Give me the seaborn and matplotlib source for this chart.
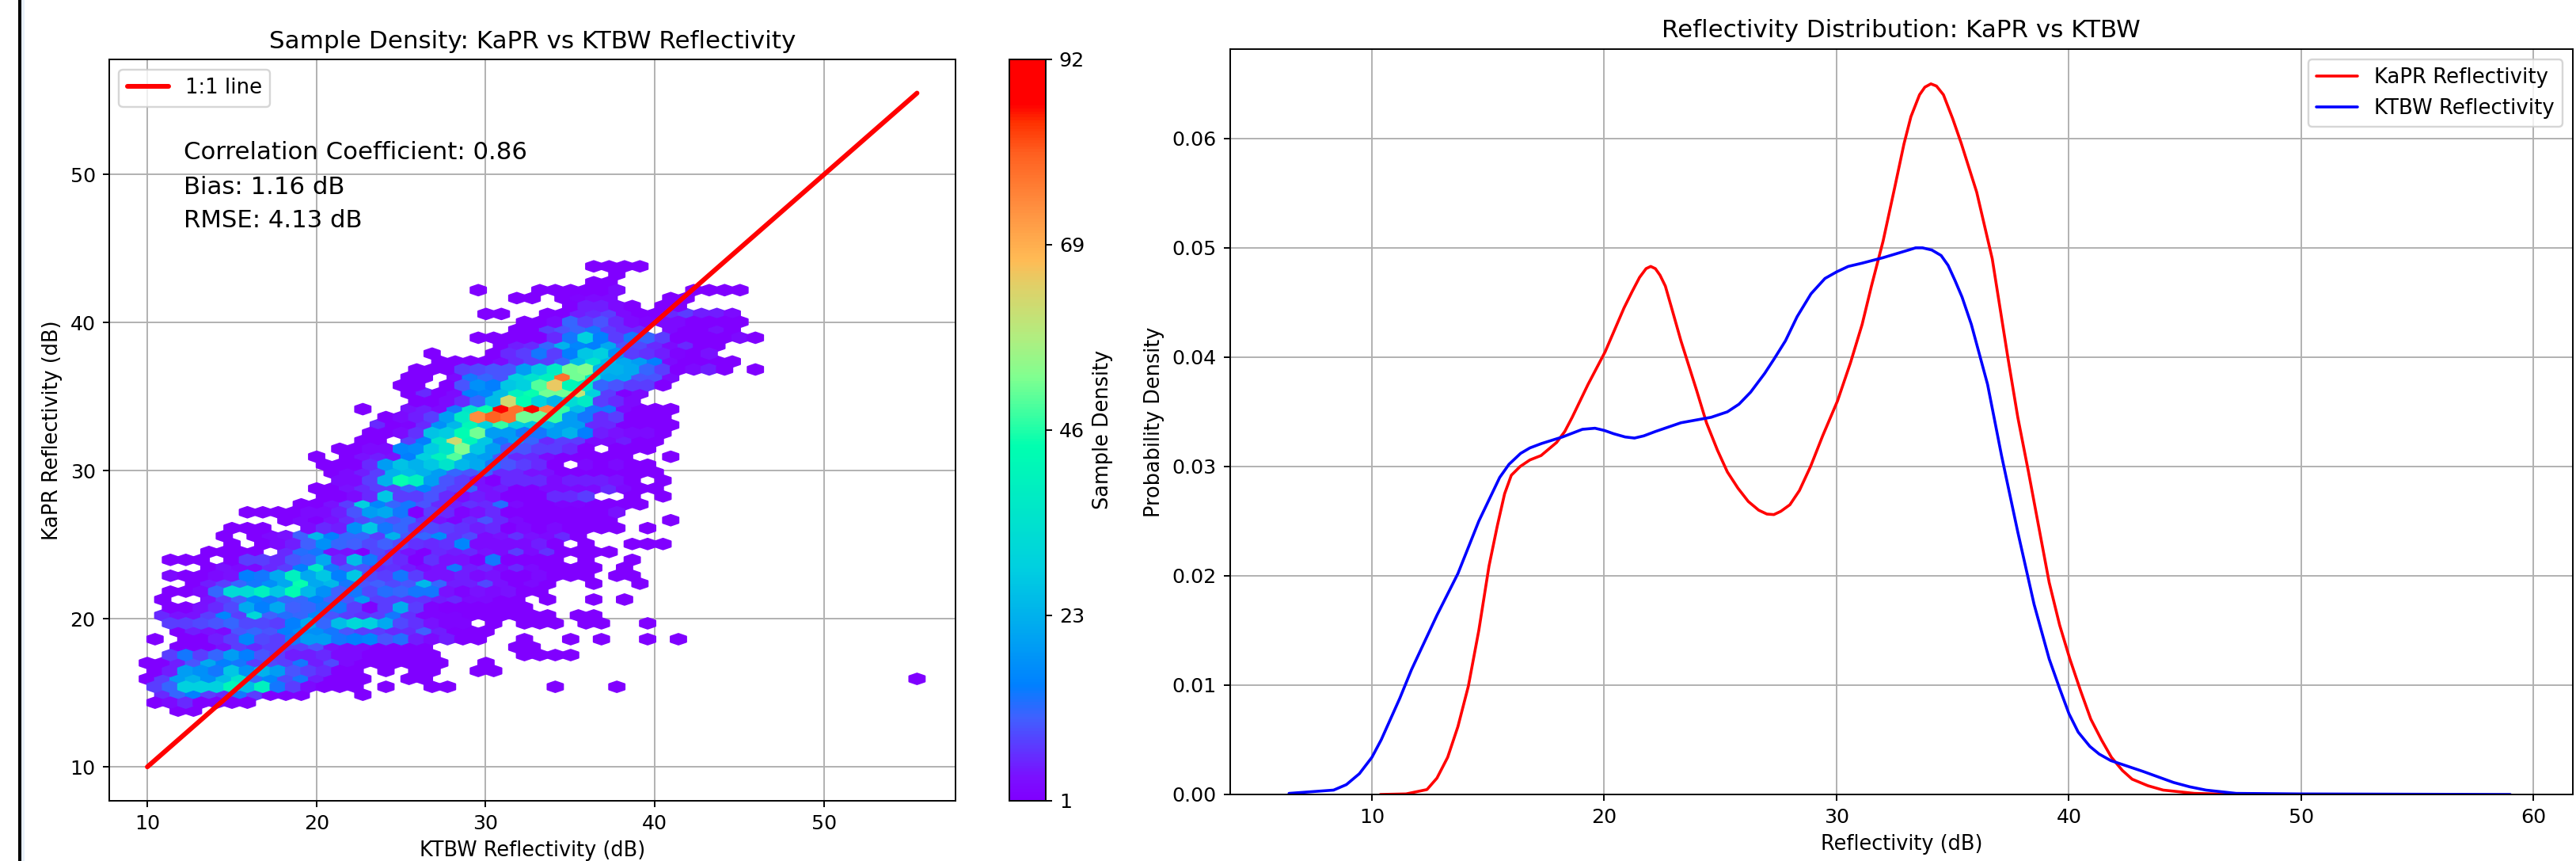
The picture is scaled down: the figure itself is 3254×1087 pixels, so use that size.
import numpy as np
import pandas as pd
import matplotlib
matplotlib.use("Agg")
import matplotlib.pyplot as plt
from matplotlib.colors import LinearSegmentedColormap
from matplotlib.patches import Rectangle
import seaborn as sns

W, H, DPI = 3254, 1087, 173

# Hex cells: half-row number from the top, first column, counts (0 = empty)
row_k = list(range(57)) + [52]
row_start = [29, 30, 29, 21, 24, 27, 22, 24, 24, 21, 23, 18, 19, 17, 17, 16, 17, 17, 14, 15, 15, 14, 14, 12, 11, 11, 12, 12, 11, 11,
             10, 6, 9, 5, 5, 5, 4, 1, 4, 1, 3, 1, 1, 1, 1, 1, 2, 0, 2, 1, 0, 0, 0, 0, 1, 0, 2, 50]
row_counts = [
 [1,1,1,1],
 [1],
 [1,1],
 [1,0,0,0,1,1,1,1,1,3,0,0,0,0,1,1,1,1],
 [1,1,0,1,2,3,3,0,0,0,1,1],
 [1,5,5,3,1,0,1,1],
 [1,1,0,0,1,1,5,6,8,3,1,1,6,8,5,5,3],
 [1,1,3,12,8,10,6,3,2,3,3,1,1,1,1],
 [1,1,8,10,12,14,8,6,6,0,3,1,1,4,1],
 [1,1,1,1,1,6,14,30,15,8,14,12,8,1,1,1,1,3,1],
 [1,5,6,12,24,16,15,22,10,9,6,3,6,1,1],
 [1,0,0,0,1,6,8,14,8,15,28,30,18,8,7,5,2,1,4],
 [1,1,1,1,3,6,8,8,12,26,36,25,22,20,15,3,1,1,1,1],
 [1,1,1,8,9,10,10,20,28,38,52,53,24,24,22,12,8,1,3,5,1,0,1],
 [1,1,0,3,14,12,10,30,35,40,78,52,38,22,22,10,10,3],
 [1,1,0,1,10,18,15,28,30,50,65,42,38,12,10,8,8,1],
 [1,6,1,3,15,16,26,40,45,52,52,60,30,8,1,3],
 [1,1,3,6,12,26,62,44,30,24,33,38,8,6,3],
 [1,0,0,4,5,3,14,36,45,92,78,92,75,48,26,14,14,3,1,1,1],
 [1,3,5,8,20,38,74,80,78,52,52,48,20,14,6,8,1,1,1],
 [6,1,2,6,18,25,42,30,48,30,28,24,20,20,6,6,1,1,1,1],
 [1,1,3,7,27,29,44,52,20,20,14,14,20,24,15,5,4,3,3,1],
 [1,1,0,8,15,36,62,42,28,14,20,12,6,8,8,3,3,5,1,1],
 [1,1,3,3,16,17,29,36,53,28,20,10,10,8,8,6,1,0,1,1,1],
 [1,0,1,4,5,4,15,30,40,50,22,20,10,6,6,3,1,1,1,1,1,0,0,1],
 [1,1,1,6,20,27,24,28,36,25,22,14,10,8,6,1,0,3,1,3,1,1],
 [1,3,5,8,24,26,24,20,12,10,12,6,6,4,4,1,1,1,1,1,1,1],
 [3,3,8,24,45,40,20,10,8,4,1,6,6,6,3,5,5,5,4,1,0,1],
 [1,1,4,6,8,8,12,16,10,8,12,4,5,1,1,3,3,3,3,6,3,1,1],
 [1,1,3,6,28,8,8,10,6,3,5,4,1,1,1,6,6,8,0,0,1,0,1],
 [1,1,4,8,30,16,12,14,10,6,5,7,6,13,3,1,1,2,2,1,1,1,1],
 [1,1,1,1,3,3,5,10,20,22,14,1,8,6,2,4,6,1,1,1,1,1,1,1,4],
 [1,3,1,4,6,9,12,10,12,7,4,2,6,10,6,3,1,1,1,1,1,1,0,0,0,1],
 [1,1,1,0,0,3,6,5,18,28,14,12,8,9,8,7,5,6,1,3,1,3,1,1,1,1,0,1],
 [1,0,1,3,4,11,25,15,12,12,8,24,10,12,17,7,9,3,4,7,4,3,6,1],
 [1,0,1,3,5,11,18,12,11,9,11,9,7,6,7,16,3,3,3,3,5,1,0,1,0,0,1,1,1],
 [1,1,1,1,0,6,13,14,4,4,1,9,6,4,1,6,5,6,4,3,8,3,7,1,1,1,1],
 [1,1,1,0,1,8,8,6,10,12,22,6,26,14,8,6,1,7,4,4,1,14,1,1,1,1,0,1,0,0,1],
 [1,4,3,3,6,8,15,38,14,10,10,6,7,5,3,4,14,5,6,3,6,3,1,1,1,1,0,1],
 [3,1,1,3,4,15,14,22,40,22,28,15,28,9,8,14,8,4,4,5,3,4,1,1,3,1,1,1,0,1,1],
 [1,5,8,12,14,18,22,45,22,25,14,10,11,9,10,25,12,5,5,9,4,1,3,1,0,0,1,0,0,1],
 [1,1,3,12,33,33,40,28,44,25,18,11,14,9,13,12,14,14,4,2,4,3,4,1,1],
 [1,0,0,4,8,11,16,14,12,12,15,11,10,20,8,8,7,7,5,6,3,3,1,1,0,1,0,0,1,0,1],
 [1,1,4,6,9,22,15,22,11,12,14,14,8,2,8,23,8,2,1,1,1,1,1,1],
 [6,4,4,8,16,8,32,11,13,12,16,10,8,7,8,14,7,2,2,2,1,1,1,1,1,1,0,1,1],
 [8,8,9,10,12,9,9,8,15,22,12,26,32,30,22,9,7,4,2,2,0,1,0,1,1,1,0,1,1,0,0,1],
 [1,5,4,3,10,12,10,15,18,18,14,10,8,8,6,6,11,5,1,1,1],
 [1,0,1,1,5,8,16,9,8,14,20,20,14,15,16,10,13,5,3,5,1,1,0,0,1,0,0,1,0,1,0,0,1,0,1],
 [1,1,1,4,8,6,8,8,8,10,4,3,3,1,1,1,1,0,0,0,0,0,1,1],
 [8,14,8,12,20,15,10,8,5,5,6,3,3,1,1,1,1,1,0,0,0,0,0,1,1,1,1],
 [1,1,5,10,22,15,14,8,9,8,14,5,9,3,1,1,1,1,1,1,0,0,1],
 [1,5,20,18,14,28,18,24,20,10,8,6,1,1,0,1,0,1,1,0,0,1,1],
 [1,8,20,24,18,26,36,12,16,9,14,5,1,1,1,0,0,1,1],
 [8,12,30,30,30,42,26,40,14,8,3,1,1,1,0,1,0,0,1,1,0,0,0,0,0,0,1,0,0,0,1],
 [6,12,15,8,6,14,8,1,1,1,0,0,0,1],
 [1,3,6,1,1,1,1],
 [1,1],
 [1],
]

# 1:1 line and statistics
line_ends = [10, 55.5]
stats_lines = ["Correlation Coefficient: 0.86", "Bias: 1.16 dB", "RMSE: 4.13 dB"]
stats_y = [51.5, 49.15, 46.9]

# Density curves
kapr_x = [10.36,11.47,12.37,12.8,13.26,13.7,14.15,14.6,15.04,15.4,15.71,16.0,16.38,16.8,17.28,17.95,18.3,18.62,19.3,20.04,20.85,21.2,21.52,21.8,22.0,22.2,22.4,22.63,22.9,23.3,23.97,24.4,24.87,25.3,25.76,26.2,26.65,27.0,27.3,27.6,27.99,28.4,28.88,29.4,30.04,30.6,31.1,31.5,32.0,32.5,32.9,33.2,33.57,33.8,34.06,34.3,34.6,35.0,35.36,36.03,36.7,37.37,37.8,38.26,38.7,39.15,39.6,40.04,40.5,40.94,41.4,41.83,42.3,42.72,43.4,44.06,45.4,47.2]
kapr_y = [0,.00005,.00045,.0015,.0034,.0062,.0099,.0150,.0209,.0246,.0275,.0292,.0300,.0306,.0310,.0322,.0332,.0345,.0375,.0405,.0445,.0460,.0473,.0481,.0483,.0481,.0475,.0465,.0445,.0415,.037,.0340,.0315,.0295,.028,.0268,.0260,.02565,.0256,.0259,.0265,.0278,.030,.0328,.036,.0395,.043,.0465,.0506,.0555,.0595,.0620,.0640,.0647,.0650,.0648,.0640,.0618,.0596,.0551,.049,.040,.0345,.0295,.0245,.0194,.0155,.0124,.0095,.0069,.0050,.0034,.0022,.0014,.0008,.0004,.0001,0]
ktbw_x = [6.43,8.35,8.9,9.46,10,10.4,10.8,11.2,11.7,12.8,13.7,14.6,15.5,15.9,16.4,16.8,17.3,18.2,19.06,19.6,20.0,20.4,20.9,21.3,21.7,22.2,23.3,24.6,25.3,25.8,26.3,26.9,27.3,27.8,28.3,28.9,29.5,30,30.5,31.1,32,33.1,33.4,33.7,34.1,34.5,34.8,35.1,35.4,35.8,36.5,37.1,37.8,38.5,39.15,39.6,40,40.4,40.9,41.3,41.8,42.5,43.2,44.5,45.2,45.9,47.2,49.9,59]
ktbw_y = [.0001,.0004,.0009,.0019,.0034,.0050,.0069,.0088,.0114,.0164,.0202,.025,.029,.0302,.0312,.0317,.0321,.0327,.0334,.0335,.0333,.033,.0327,.0326,.0328,.0332,.034,.0345,.0350,.0357,.0368,.0385,.0398,.0415,.0437,.0458,.0472,.0478,.0483,.0486,.0491,.0498,.0500,.05,.0498,.0493,.0484,.047,.0455,.043,.0375,.031,.024,.0174,.0124,.0097,.0074,.0057,.0044,.0037,.0031,.0026,.0021,.0011,.0007,.0004,.0001,.00005,0]

# Colormap anchors
cmap_positions = [0, .03, .11, .154, .229, .314, .478, .571, .624, .695, .73, .80, .874, .917, .94, 1]
cmap_colors = ["#8000ff", "#7a10ff", "#4060ff", "#0080ff", "#00a8f0", "#00d0e0", "#00ffb0", "#80ff90", "#b0ee80",
               "#e0d068", "#ffbb55", "#ff9040", "#ff6020", "#ff3000", "#ff0000", "#ff0000"]
density_cmap = LinearSegmentedColormap.from_list("density", list(zip(cmap_positions, cmap_colors)), N=256)

sns.set_style("ticks")
plt.rcParams.update({"font.family": ["DejaVu Sans"], "axes.grid": False, "xtick.color": "black", "ytick.color": "black",
                     "axes.edgecolor": "black", "text.color": "black", "axes.labelcolor": "black",
                     "xtick.direction": "out", "ytick.direction": "out", "axes.linewidth": .8,
                     "xtick.major.size": 3.5, "ytick.major.size": 3.5, "xtick.major.width": .8, "ytick.major.width": .8,
                     "xtick.labelsize": 10.5, "ytick.labelsize": 10.5, "axes.labelsize": 10.7, "axes.titlesize": 12.9,
                     "legend.fontsize": 10.8})

fig = plt.figure(figsize=(W / DPI, H / DPI), dpi=DPI, facecolor="white")

def box(left, top, right, bottom):
    return [left / W, 1 - bottom / H, (right - left) / W, (bottom - top) / H]

fig.add_artist(Rectangle((22.7 / W, 0), 4 / W, 1, transform=fig.transFigure, color="black", lw=0))
fig.add_artist(Rectangle((26.7 / W, 0), 4.3 / W, 1, transform=fig.transFigure, color="#e8f0fa", lw=0))

# --- left panel
ax1 = fig.add_axes(box(137.5, 75, 1207, 1010.7))
x_step, y_top, y_bot = (55.5 - 10) / 50, 43.8, 13.8
y_step = (y_top - y_bot) / 28
xs, ys, cs = [], [], []
for k, start, counts in zip(row_k, row_start, row_counts):
    for off, n in enumerate(counts):
        if n > 0:
            xs.append(10 + x_step * (start + off + 0.5 * (k % 2)))
            ys.append(y_top - y_step / 2 * k)
            cs.append(n)
hb = ax1.hexbin(xs, ys, C=cs, reduce_C_function=np.sum, gridsize=50, extent=(10, 55.5, y_bot, y_top),
                cmap=density_cmap, vmin=1, vmax=92)
sns.lineplot(x=line_ends, y=line_ends, ax=ax1, color="red", lw=2.5, label="1:1 line", zorder=3)
ax1.set_xlim(7.725, 57.775)
ax1.set_ylim(7.725, 57.775)
ax1.set_xticks([10, 20, 30, 40, 50])
ax1.set_yticks([10, 20, 30, 40, 50])
ax1.grid(True, color="#b0b0b0", lw=.8)
ax1.set_title("Sample Density: KaPR vs KTBW Reflectivity")
ax1.set_xlabel("KTBW Reflectivity (dB)")
ax1.set_ylabel("KaPR Reflectivity (dB)")
ax1.legend(loc="upper left")
for label, yy in zip(stats_lines, stats_y):
    ax1.text(12.17, yy, label, fontsize=12.8, va="center", ha="left")

# --- colour bar
cax = fig.add_axes(box(1275, 75, 1321, 1010.7))
cb = fig.colorbar(hb, cax=cax)
cb_ticks = np.linspace(1, 92, 5)
cb.set_ticks(cb_ticks)
cb.set_ticklabels([str(int(t)) for t in cb_ticks])
cb.set_label("Sample Density")

# --- right panel
ax2 = fig.add_axes(box(1553.7, 61.7, 3250, 1003))
sns.lineplot(x=kapr_x, y=kapr_y, ax=ax2, color="red", lw=1.5, label="KaPR Reflectivity", sort=False)
sns.lineplot(x=ktbw_x, y=ktbw_y, ax=ax2, color="blue", lw=1.5, label="KTBW Reflectivity", sort=False)
ax2.set_xlim(3.89, 61.69)
ax2.set_ylim(0, .0682)
ax2.set_xticks([10, 20, 30, 40, 50, 60])
ax2.set_yticks([0, .01, .02, .03, .04, .05, .06])
ax2.set_yticklabels(["0.00", "0.01", "0.02", "0.03", "0.04", "0.05", "0.06"])
ax2.grid(True, color="#b0b0b0", lw=.8)
ax2.set_title("Reflectivity Distribution: KaPR vs KTBW")
ax2.set_xlabel("Reflectivity (dB)")
ax2.set_ylabel("Probability Density")
ax2.legend(loc="upper right")

fig.savefig("out.png", dpi=DPI)
